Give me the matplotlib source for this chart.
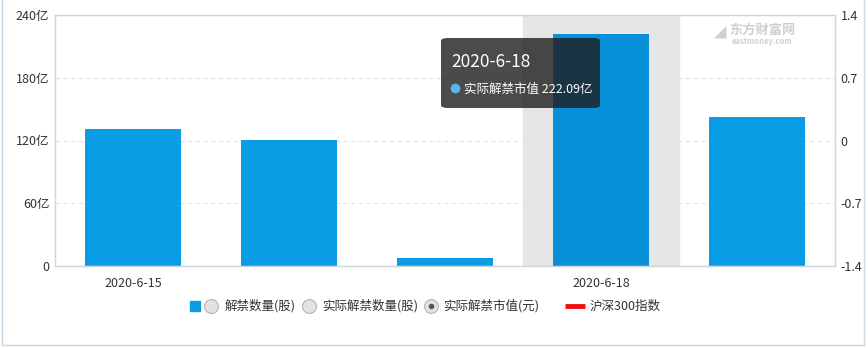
import numpy as np
import matplotlib.pyplot as plt
from matplotlib.patches import FancyBboxPatch, Rectangle
from matplotlib.lines import Line2D

plt.rcParams['font.family'] = ['Noto Sans CJK SC', 'DejaVu Sans']

dates = ['2020-6-15', '2020-6-16', '2020-6-17', '2020-6-18', '2020-6-19']
shown_dates = ['2020-6-15', '2020-6-18']
unlock_value = [131.0, 120.5, 7.6, 222.09, 142.5]  # 亿元
left_ticks = [0, 60, 120, 180, 240]
left_labels = ['0', '60亿', '120亿', '180亿', '240亿']
right_ticks = [-1.4, -0.7, 0, 0.7, 1.4]
hover_idx = 3

bar_color = '#0a9de6'
hover_color = '#0891d8'
frame_color = '#ccd6dd'
grid_color = '#e3e3e3'

W, H = 868, 348


def fx(px):
    return px / W


def fy(py):
    return 1 - py / H


fig = plt.figure(figsize=(8.68, 3.48), dpi=100)
ax = fig.add_axes([fx(55), fy(266), 780 / W, 251 / H])
ax2 = ax.twinx()

x = np.arange(len(dates))
ax.axvspan(hover_idx - 0.5, hover_idx + 0.5, color='#e6e6e6', zorder=0)
colors = [hover_color if i == hover_idx else bar_color for i in x]
ax.bar(x, unlock_value, width=0.62, color=colors, zorder=2)

ax.set_xlim(-0.5, len(dates) - 0.5)
ax.set_ylim(0, 240)
ax.set_yticks(left_ticks)
ax.set_yticklabels(left_labels)
ax.set_xticks([dates.index(d) for d in shown_dates])
ax.set_xticklabels(shown_dates)
for y in left_ticks[1:-1]:
    ax.axhline(y, color=grid_color, lw=0.8, ls=(0, (4, 3)), zorder=1)

ax2.set_ylim(-1.4, 1.4)
ax2.set_yticks(right_ticks)
ax2.set_yticklabels(['-1.4', '-0.7', '0', '0.7', '1.4'])

for a in (ax, ax2):
    a.tick_params(length=0, labelsize=9, colors='#333333', pad=4)
    for s in a.spines.values():
        s.set_color(frame_color)
        s.set_linewidth(0.9)
ax.tick_params(axis='x', pad=8)

# watermark
fig.text(fx(720), fy(33), '◢', fontsize=9, color='#d0d0d0', ha='center', va='center')
fig.text(fx(762), fy(30), '东方财富网', fontsize=9.5, color='#cfcfcf',
         ha='center', va='center', fontweight='bold')
fig.text(fx(762), fy(42), 'eastmoney.com', fontsize=5.5, color='#cfcfcf',
         ha='center', va='center', fontweight='bold')

# tooltip
tip = FancyBboxPatch((fx(441), fy(108)), 159 / W, 70 / H,
                     boxstyle='round,pad=0,rounding_size=0.008',
                     transform=fig.transFigure, facecolor='#1e1e1e', alpha=0.8,
                     edgecolor='none', zorder=10)
fig.patches.append(tip)
fig.text(fx(451), fy(62), dates[hover_idx], fontsize=12.5, color='white',
         va='center', zorder=11)
fig.lines.append(Line2D([fx(455)], [fy(88)], transform=fig.transFigure, marker='o',
                        ms=7, color='#4fb8f0', mec='none', zorder=11))
fig.text(fx(464), fy(89), f'实际解禁市值 {unlock_value[hover_idx]:.2f}亿',
         fontsize=9, color='white', va='center', zorder=11)

# legend
ly = fy(306)
fig.patches.append(Rectangle((fx(190), ly - 5 / H), 10 / W, 10 / H,
                             transform=fig.transFigure, color=bar_color))
items = [(211, 225, '解禁数量(股)', False), (309, 322, '实际解禁数量(股)', False),
         (431, 443, '实际解禁市值(元)', True)]
for cx, tx, label, sel in items:
    fig.lines.append(Line2D([fx(cx)], [ly], transform=fig.transFigure, marker='o',
                            ms=10, mfc='#e2e2e2', mec='#b5b5b5', mew=0.8))
    if sel:
        fig.lines.append(Line2D([fx(cx)], [ly], transform=fig.transFigure, marker='o',
                                ms=4, color='#555555', mec='none'))
    fig.text(fx(tx), ly, label, fontsize=9, color='#333333', va='center')
fig.lines.append(Line2D([fx(565), fx(585)], [ly, ly], transform=fig.transFigure,
                        color='#ee1111', lw=3.5, solid_capstyle='butt'))
fig.text(fx(590), ly, '沪深300指数', fontsize=9, color='#333333', va='center')

# outer border
border_color = '#c8d8e4'
fig.lines.append(Line2D([fx(2), fx(2)], [1, fy(345)], transform=fig.transFigure,
                        color=border_color, lw=1))
fig.lines.append(Line2D([fx(864), fx(864)], [1, fy(345)], transform=fig.transFigure,
                        color=border_color, lw=1))
fig.lines.append(Line2D([fx(2), fx(864)], [fy(345), fy(345)],
                        transform=fig.transFigure, color=border_color, lw=1))

fig.savefig('out.png', dpi=100)
